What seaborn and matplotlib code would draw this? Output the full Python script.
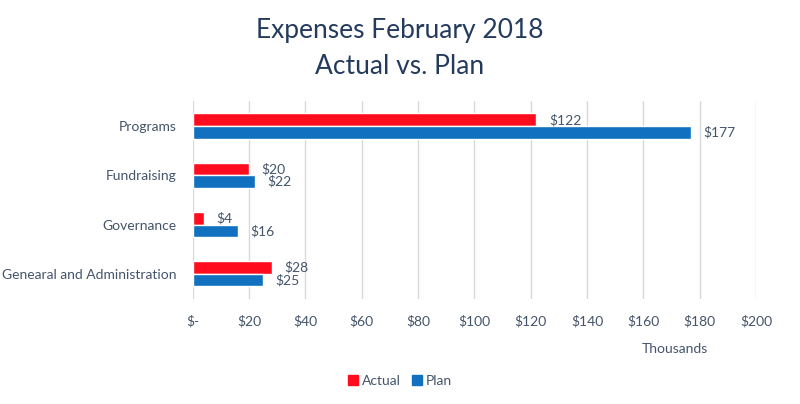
import pandas as pd
import matplotlib.pyplot as plt
import seaborn as sns

# data (thousands of dollars)
categories = ['Programs', 'Fundraising', 'Governance', 'Genearal and Administration']
actual = [122, 20, 4, 28]
plan = [177, 22, 16, 25]
series = ['Actual', 'Plan']
xticks = [0, 20, 40, 60, 80, 100, 120, 140, 160, 180, 200]
xtick_labels = ['$-'] + ['$' + str(v) for v in xticks[1:]]

df = pd.DataFrame({
    'category': categories * 2,
    'series': ['Actual'] * len(actual) + ['Plan'] * len(plan),
    'value': actual + plan,
})

sns.set_theme(style='white')
plt.rcParams['font.family'] = ['Lato', 'DejaVu Sans']
txt = '#44546A'

fig = plt.figure(figsize=(8, 4.04), dpi=100)
ax = fig.add_axes([0.241, 0.261, 0.704, 0.488])

sns.barplot(data=df, y='category', x='value', hue='series', orient='h',
            order=categories, hue_order=series,
            palette={'Actual': '#FF0D1F', 'Plan': '#1170BF'},
            width=0.51, gap=0, saturation=1, legend=False, ax=ax)

for cont in ax.containers:
    ax.bar_label(cont, labels=['$' + str(int(b.get_width())) for b in cont],
                 padding=9, fontsize=10, color=txt)

ax.set_xlim(0, 200)
ax.set_xticks(xticks)
ax.set_xticklabels(xtick_labels)
ax.grid(axis='x', color='#D9D9D9', linewidth=1)
ax.set_axisbelow(True)
for s in ax.spines.values():
    s.set_visible(False)
ax.tick_params(axis='both', length=0, labelsize=10, colors=txt)
ax.tick_params(axis='y', pad=12)
ax.tick_params(axis='x', pad=12)
ax.set_xlabel('')
ax.set_ylabel('')

fig.text(0.844, 0.137, 'Thousands', ha='center', va='center', fontsize=10, color=txt)
fig.text(0.5, 0.88, 'Expenses February 2018\nActual vs. Plan', ha='center', va='center',
         fontsize=19, color='#243B5E', linespacing=1.55)

handles = [plt.Rectangle((0, 0), 1, 1, color='#FF0D1F'),
           plt.Rectangle((0, 0), 1, 1, color='#1170BF')]
fig.legend(handles, series, loc='center', bbox_to_anchor=(0.5, 0.057), ncol=2,
           frameon=False, fontsize=10, handlelength=0.7, handleheight=0.7,
           handletextpad=0.3, columnspacing=0.8, labelcolor=txt)

fig.savefig('out.png', dpi=100)
